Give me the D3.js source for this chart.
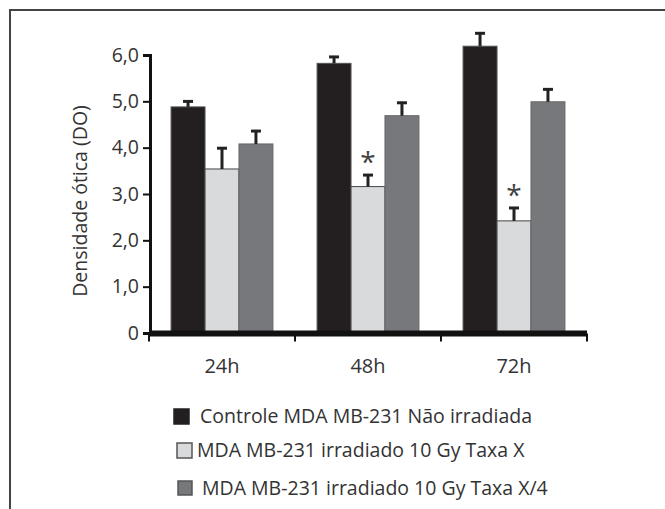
<!DOCTYPE html>
<html>
<head>
<meta charset="utf-8">
<script src="https://cdn.jsdelivr.net/npm/d3@7"></script>
<style>
  body { margin: 0; background: #fff; }
  text { font-family: "Open Sans", sans-serif; fill: #333; }
</style>
</head>
<body>
<div id="chart-area"></div>
<script>
const categories = ["24h", "48h", "72h"];
const seriesNames = [
  "Controle MDA MB-231 Não irradiada",
  "MDA MB-231 irradiado 10 Gy Taxa X",
  "MDA MB-231 irradiado 10 Gy Taxa X/4"
];
const controle = [4.88, 5.82, 6.19];
const taxaX = [3.54, 3.16, 2.42];
const taxaX4 = [4.08, 4.69, 4.99];
const errControle = [0.14, 0.16, 0.30];
const errTaxaX = [0.47, 0.27, 0.30];
const errTaxaX4 = [0.30, 0.30, 0.29];
const significant = [false, true, true]; // asterisk over Taxa X
const yTicks = [0, 1, 2, 3, 4, 5, 6];

const colors = ["#231f20", "#d9dadc", "#77787b"];
const strokes = ["#555", "#444", "#666"];

const values = [controle, taxaX, taxaX4];
const errors = [errControle, errTaxaX, errTaxaX4];

const W = 665, H = 509;
const svg = d3.select("#chart-area")
  .append("svg")
    .attr("width", W)
    .attr("height", H);

// frame (right and bottom edges fall outside the picture)
svg.append("rect")
  .attr("x", 10)
  .attr("y", 10)
  .attr("width", W)
  .attr("height", H)
  .attr("fill", "none")
  .attr("stroke", "#444")
  .attr("stroke-width", 2);

const x0 = d3.scaleBand()
  .domain(categories)
  .range([149, 587])
  .padding(0);

const x1 = d3.scaleBand()
  .domain(d3.range(seriesNames.length))
  .range([0, x0.bandwidth()])
  .paddingInner(0)
  .paddingOuter(0.65);

const y = d3.scaleLinear()
  .domain([0, 6])
  .range([333, 55]);

// bars
const rows = [];
categories.forEach((c, i) => {
  values.forEach((s, j) => {
    rows.push({ cat: c, i: i, s: j, v: s[i], e: errors[j][i] });
  });
});

const g = svg.append("g");

g.selectAll("rect.bar")
  .data(rows)
  .enter()
  .append("rect")
    .attr("class", "bar")
    .attr("x", d => x0(d.cat) + x1(d.s))
    .attr("y", d => y(d.v))
    .attr("width", x1.bandwidth())
    .attr("height", d => y(0) - y(d.v))
    .attr("fill", d => colors[d.s])
    .attr("stroke", d => strokes[d.s])
    .attr("stroke-width", 1);

// error bars (upper only)
const eb = g.selectAll("g.err")
  .data(rows)
  .enter()
  .append("g")
    .attr("class", "err")
    .attr("transform", d => `translate(${x0(d.cat) + x1(d.s) + x1.bandwidth() / 2}, 0)`);

eb.append("line")
  .attr("y1", d => y(d.v))
  .attr("y2", d => y(d.v + d.e))
  .attr("stroke", "#222")
  .attr("stroke-width", 3);

eb.append("line")
  .attr("x1", -5)
  .attr("x2", 5)
  .attr("y1", d => y(d.v + d.e) + 1)
  .attr("y2", d => y(d.v + d.e) + 1)
  .attr("stroke", "#222")
  .attr("stroke-width", 3);

// asterisks
g.selectAll("text.star")
  .data(categories.filter((c, i) => significant[i]))
  .enter()
  .append("text")
    .attr("class", "star")
    .attr("x", d => x0(d) + x1(1) + x1.bandwidth() / 2)
    .attr("y", d => {
      const i = categories.indexOf(d);
      return y(taxaX[i] + errTaxaX[i]) - 2;
    })
    .attr("text-anchor", "middle")
    .attr("font-size", "28px")
    .style("fill", "#444")
    .text("*");

// y axis
const yAxisCall = d3.axisLeft(y)
  .tickValues(yTicks)
  .tickSizeOuter(0)
  .tickSize(7)
  .tickPadding(4)
  .tickFormat(d => d === 0 ? "0" : d3.format(".1f")(d).replace(".", ","));

const yAxis = svg.append("g")
  .attr("transform", "translate(150, 0)")
  .call(yAxisCall);
yAxis.select(".domain").attr("stroke", "#111").attr("stroke-width", 3);
yAxis.selectAll(".tick line").attr("stroke", "#111").attr("stroke-width", 2);
yAxis.selectAll(".tick text")
  .attr("font-size", "19.5px")
  .attr("font-family", "Open Sans, sans-serif")
  .style("fill", "#333");

// x axis: thick baseline, ticks at category boundaries
const xAxis = svg.append("g")
  .attr("transform", "translate(0, 333.5)");

xAxis.append("line")
  .attr("x1", x0.range()[0])
  .attr("x2", x0.range()[1])
  .attr("stroke", "#111")
  .attr("stroke-width", 6);

const bounds = categories.map(c => x0(c)).concat([x0.range()[1]]);
xAxis.selectAll("line.tk")
  .data(bounds)
  .enter()
  .append("line")
    .attr("class", "tk")
    .attr("x1", d => d)
    .attr("x2", d => d)
    .attr("y1", 0)
    .attr("y2", 8)
    .attr("stroke", "#111")
    .attr("stroke-width", 2);

xAxis.selectAll("text")
  .data(categories)
  .enter()
  .append("text")
    .attr("x", d => x0(d) + x0.bandwidth() / 2)
    .attr("y", 39)
    .attr("text-anchor", "middle")
    .attr("font-size", "20px")
    .text(d => d);

// y label
svg.append("text")
  .attr("transform", "rotate(-90)")
  .attr("x", -201)
  .attr("y", 87)
  .attr("text-anchor", "middle")
  .attr("font-size", "19.5px")
  .text("Densidade ótica (DO)");

// legend
const legendPos = [
  { sx: 174, sy: 409, s: 15, tx: 200, ty: 416 },
  { sx: 177, sy: 443, s: 15, tx: 197, ty: 450 },
  { sx: 178, sy: 481, s: 14, tx: 202, ty: 488 }
];

const legend = svg.append("g");
const items = legend.selectAll("g")
  .data(seriesNames)
  .enter()
  .append("g");

items.append("rect")
  .attr("x", (d, i) => legendPos[i].sx)
  .attr("y", (d, i) => legendPos[i].sy)
  .attr("width", (d, i) => legendPos[i].s)
  .attr("height", (d, i) => legendPos[i].s)
  .attr("fill", (d, i) => colors[i])
  .attr("stroke", (d, i) => i === 0 ? "#222" : "#555")
  .attr("stroke-width", 1.5);

items.append("text")
  .attr("x", (d, i) => legendPos[i].tx)
  .attr("y", (d, i) => legendPos[i].ty)
  .attr("dy", "0.35em")
  .attr("font-size", "19.5px")
  .text(d => d);
</script>
</body>
</html>
